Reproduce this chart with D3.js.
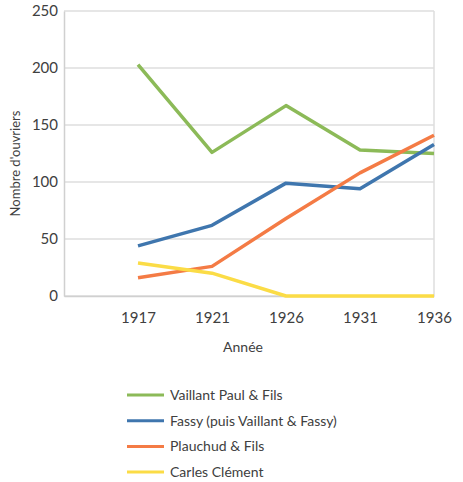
<!DOCTYPE html>
<html>
<head>
<meta charset="utf-8">
<script src="https://cdn.jsdelivr.net/npm/d3@7"></script>
<style>
  body { margin:0; background:#fff; }
  text { font-family: Lato, "Open Sans", sans-serif; fill:#404040; }
</style>
</head>
<body>
<div class="canvas"></div>
<script>
// data
const years = ['1917', '1921', '1926', '1931', '1936'];
const seriesNames = ['Vaillant Paul & Fils', 'Fassy (puis Vaillant & Fassy)', 'Plauchud & Fils', 'Carles Clément'];
const vaillant = [203, 126, 167, 128, 125];
const fassy = [44, 62, 99, 94, 133];
const plauchud = [16, 26, 68, 108, 141];
const carles = [29, 20, 0, 0, 0];
const yTicks = [0, 50, 100, 150, 200, 250];
const colors = ['#8cba58', '#3f76ae', '#f47b45', '#fbdc46'];

const seriesValues = [vaillant, fassy, plauchud, carles];

const margin = { top:11, right:29, bottom:186, left:64 };
const width = 463, height = 482;
const graphWidth = width - margin.left - margin.right;
const graphHeight = height - margin.top - margin.bottom;

const svg = d3.select('.canvas')
              .append('svg')
              .attr('width', width)
              .attr('height', height);

const graph = svg.append('g')
                 .attr('transform', `translate(${margin.left}, ${margin.top})`);

// x uses category index, with one empty slot before 1917
const x = d3.scaleLinear().domain([-1, years.length - 1]).range([0, graphWidth]);
const y = d3.scaleLinear().domain([0, 250]).range([graphHeight, 0]);

// gridlines
graph.append('g')
     .selectAll('line')
     .data(yTicks)
     .enter().append('line')
     .attr('x1', 0).attr('x2', graphWidth)
     .attr('y1', d => y(d)).attr('y2', d => y(d))
     .attr('stroke', '#dedede')
     .attr('stroke-width', 1.5);

// right border
graph.append('line')
     .attr('x1', graphWidth).attr('x2', graphWidth)
     .attr('y1', 0).attr('y2', graphHeight)
     .attr('stroke', '#dedede')
     .attr('stroke-width', 1.5);

// axes
const yAxis = d3.axisLeft(y).tickValues(yTicks).tickSize(0).tickPadding(6);
const yAxisGroup = graph.append('g').call(yAxis);
yAxisGroup.select('.domain').attr('stroke', '#d0d0d0').attr('stroke-width', 1.5);
yAxisGroup.selectAll('text').style('font-size', '15px').style('fill', '#404040');

const xAxis = d3.axisBottom(x)
                .tickValues(d3.range(years.length))
                .tickFormat(i => years[i])
                .tickSize(0)
                .tickPadding(16);
const xAxisGroup = graph.append('g')
                        .attr('transform', `translate(0, ${graphHeight})`)
                        .call(xAxis);
xAxisGroup.select('.domain').attr('stroke', '#d0d0d0').attr('stroke-width', 1.5);
xAxisGroup.selectAll('text').style('font-size', '15px').style('fill', '#404040');

// axis titles
svg.append('text')
   .attr('transform', `translate(20, ${margin.top + graphHeight / 2 + 10}) rotate(-90)`)
   .attr('text-anchor', 'middle')
   .style('font-size', '13px')
   .text("Nombre d'ouvriers");

svg.append('text')
   .attr('x', 243)
   .attr('y', 352)
   .attr('text-anchor', 'middle')
   .style('font-size', '14px')
   .text('Année');

// lines
const line = d3.line()
               .x((d, i) => x(i))
               .y(d => y(d));

graph.selectAll('path.series')
     .data(seriesValues)
     .enter().append('path')
     .attr('class', 'series')
     .attr('fill', 'none')
     .attr('stroke', (d, i) => colors[i])
     .attr('stroke-width', 3.5)
     .attr('stroke-linejoin', 'round')
     .attr('d', line);

// legend
const legend = svg.append('g').attr('transform', 'translate(127, 395)');
const rows = legend.selectAll('g')
                   .data(seriesNames)
                   .enter().append('g')
                   .attr('transform', (d, i) => `translate(0, ${i * 25.7})`);
rows.append('line')
    .attr('x1', 0).attr('x2', 37)
    .attr('y1', 0).attr('y2', 0)
    .attr('stroke', (d, i) => colors[i])
    .attr('stroke-width', 3);
rows.append('text')
    .attr('x', 43)
    .attr('y', 5)
    .style('font-size', '14px')
    .text(d => d);
</script>
</body>
</html>
